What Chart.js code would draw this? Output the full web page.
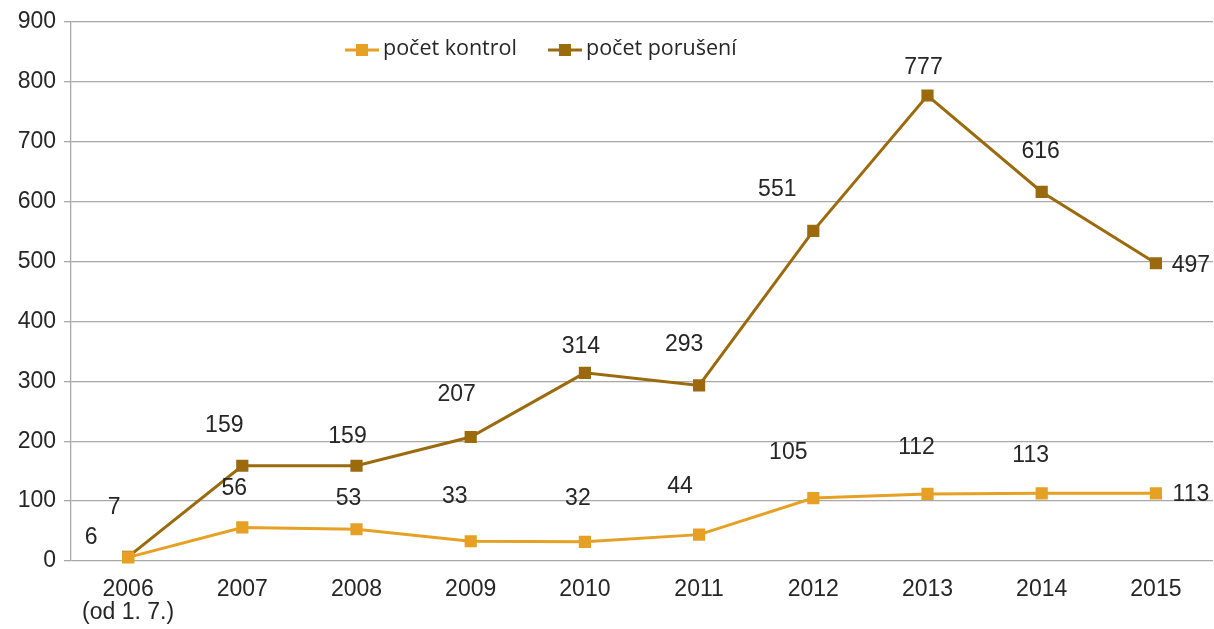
<!DOCTYPE html>
<html>
<head>
<meta charset="utf-8">
<script src="https://cdn.jsdelivr.net/npm/chart.js@4.4.1/dist/chart.umd.min.js"></script>
<style>
html,body{margin:0;padding:0;background:#fff;overflow:hidden;}
#wrap{width:1214px;height:629px;position:relative;overflow:hidden;}
canvas{display:block;}
</style>
</head>
<body>
<div id="wrap"><canvas id="c" width="1214" height="629"></canvas></div>
<script>
const categories = [["2006","(od 1. 7.)"],"2007","2008","2009","2010","2011","2012","2013","2014","2015"];
const kontrol = [6,56,53,33,32,44,105,112,113,113];
const poruseni = [7,159,159,207,314,293,551,777,616,497];
const yTicks = [0,100,200,300,400,500,600,700,800,900];
const seriesNames = ["počet kontrol","počet porušení"];

// label offsets (px) relative to each point, as placed in the reference
const kontrolLabelOffsets = [[-37,-20],[-8,-39],[-8,-31],[-16,-45],[-7,-43],[-19,-48],[-25,-45],[-11,-46],[-11,-38],[35,1]];
const poruseniLabelOffsets = [[-14,-49],[-18,-40],[-9,-29],[-14,-42],[-4,-26],[-15,-41],[-36,-41],[-4,-28],[-1,-40],[35,2]];

const COL_K = '#E6A023';
const COL_P = '#9A6A0C';
const FONT = '"Liberation Sans", Arial, sans-serif';

const labelPlugin = {
  id:'labels',
  afterDatasetsDraw(chart){
    const ctx = chart.ctx;
    ctx.save();
    ctx.font = '23px ' + FONT;
    ctx.fillStyle = '#262626';
    ctx.textAlign = 'center';
    ctx.textBaseline = 'middle';
    const offs = [kontrolLabelOffsets, poruseniLabelOffsets];
    chart.data.datasets.forEach((ds, di)=>{
      const meta = chart.getDatasetMeta(di);
      meta.data.forEach((pt, i)=>{
        const o = offs[di][i];
        ctx.fillText(String(ds.data[i]), pt.x + o[0], pt.y + o[1]);
      });
    });
    ctx.restore();
  }
};

const legendPlugin = {
  id:'customLegend',
  afterDraw(chart){
    const ctx = chart.ctx;
    ctx.save();
    const items = [{x:345, color:COL_K, text:seriesNames[0]},{x:548, color:COL_P, text:seriesNames[1]}];
    const y = 50;
    ctx.font = '21.5px "Open Sans", "Noto Sans", sans-serif';
    ctx.textBaseline = 'middle';
    ctx.textAlign = 'left';
    items.forEach(it=>{
      ctx.strokeStyle = it.color;
      ctx.lineWidth = 3;
      ctx.beginPath(); ctx.moveTo(it.x, y); ctx.lineTo(it.x+34, y); ctx.stroke();
      ctx.fillStyle = it.color;
      ctx.fillRect(it.x+17-6, y-6, 12, 12);
      ctx.fillStyle = '#262626';
      ctx.fillText(it.text, it.x+38, y-1);
    });
    ctx.restore();
  }
};

new Chart(document.getElementById('c'), {
  type:'line',
  data:{
    labels:categories,
    datasets:[
      {label:seriesNames[0], data:kontrol, borderColor:COL_K, backgroundColor:COL_K, borderWidth:3, pointStyle:'rect', pointRadius:6.5, pointHoverRadius:6.5, tension:0, clip:false},
      {label:seriesNames[1], data:poruseni, borderColor:COL_P, backgroundColor:COL_P, borderWidth:3, pointStyle:'rect', pointRadius:6.5, pointHoverRadius:6.5, tension:0, clip:false}
    ]
  },
  options:{
    responsive:false,
    animation:false,
    events:[],
    layout:{autoPadding:false, padding:{top:14, right:1, left:0, bottom:0}},
    plugins:{legend:{display:false}, tooltip:{enabled:false}},
    scales:{
      x:{
        offset:true,
        grid:{display:false, drawTicks:false},
        border:{display:false},
        ticks:{color:'#262626', font:{family:FONT, size:23, lineHeight:1.0}, padding:17, maxRotation:0, autoSkip:false},
        afterFit(s){ s.height = 68; s.paddingLeft = 0; s.paddingRight = 0; }
      },
      y:{
        min:0, max:900,
        afterBuildTicks(s){ s.ticks = yTicks.map(v=>({value:v})); },
        grid:{color:'#A8A8A8', lineWidth:1.3, tickLength:7, drawTicks:true},
        border:{color:'#A8A8A8', width:1.3},
        ticks:{color:'#262626', font:{family:FONT, size:23}, padding:8},
        afterFit(s){ s.width = 71; }
      }
    }
  },
  plugins:[labelPlugin, legendPlugin]
});
</script>
</body>
</html>
